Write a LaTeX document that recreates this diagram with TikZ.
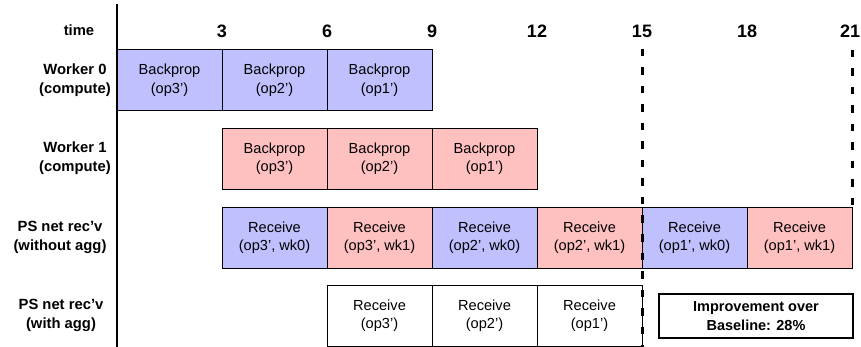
\documentclass[tikz,border=0pt]{standalone}
\usepackage{fontspec}
\setmainfont{Liberation Sans}
\definecolor{wkblue}{RGB}{192,192,255}
\definecolor{wkred}{RGB}{255,192,192}
\tikzset{
  cell/.style={draw=black, line width=0.9pt, minimum width=105pt, minimum height=61pt,
    inner sep=0pt, align=center, font=\fontsize{14.6}{18.5}\selectfont},
  blue cell/.style={cell, fill=wkblue},
  red cell/.style={cell, fill=wkred},
  white cell/.style={cell, fill=white},
  rowlabel/.style={align=center, font=\bfseries\fontsize{14.8}{19}\selectfont, inner sep=0pt},
  ticklabel/.style={font=\bfseries\fontsize{18}{20}\selectfont, inner sep=0pt},
  axisline/.style={line width=2.8pt},
  marker/.style={line width=3pt, dash pattern=on 7.5pt off 11pt},
  notebox/.style={draw=black, line width=1.2pt, minimum width=194pt, minimum height=44pt,
    inner sep=0pt, align=center, font=\bfseries\fontsize{14.5}{19}\selectfont}
}
\begin{document}
\begin{tikzpicture}[x=1pt, y=-1pt]
\useasboundingbox (0,0) rectangle (861,347);

% time axis labels
\node[rowlabel] (time) at (79,30) {time};
\node[ticklabel] (t3)  at (222,31) {3};
\node[ticklabel] (t6)  at (327,31) {6};
\node[ticklabel] (t9)  at (432,31) {9};
\node[ticklabel] (t12) at (537,31) {12};
\node[ticklabel] (t15) at (642,31) {15};
\node[ticklabel] (t18) at (747,31) {18};
\node[ticklabel] (t21) at (850,31) {21};

% row labels
\node[rowlabel] (lw0) at (75,80)    {Worker 0\\(compute)};
\node[rowlabel] (lw1) at (75,158.5) {Worker 1\\(compute)};
\node[rowlabel] (lps) at (60,237.5) {PS net rec’v\\(without agg)};
\node[rowlabel] (lpa) at (61,315.5) {PS net rec’v\\(with agg)};

% vertical axis
\coordinate (axtop) at (117,4);
\coordinate (axbot) at (117,347);
\draw[axisline] (axtop) -- (axbot);

% Worker 0 compute
\node[blue cell] (w0a) at (169.5,80) {Backprop\\(op3’)};
\node[blue cell] (w0b) at (274.5,80) {Backprop\\(op2’)};
\node[blue cell] (w0c) at (379.5,80) {Backprop\\(op1’)};

% Worker 1 compute
\node[red cell] (w1a) at (274.5,158.5) {Backprop\\(op3’)};
\node[red cell] (w1b) at (379.5,158.5) {Backprop\\(op2’)};
\node[red cell] (w1c) at (484.5,158.5) {Backprop\\(op1’)};

% PS receive without aggregation
\node[blue cell] (pa) at (274.5,237.5) {Receive\\(op3’, wk0)};
\node[red cell]  (pb) at (379.5,237.5) {Receive\\(op3’, wk1)};
\node[blue cell] (pc) at (484.5,237.5) {Receive\\(op2’, wk0)};
\node[red cell]  (pd) at (589.5,237.5) {Receive\\(op2’, wk1)};
\node[blue cell] (pe) at (694.5,237.5) {Receive\\(op1’, wk0)};
\node[red cell]  (pf) at (799.5,237.5) {Receive\\(op1’, wk1)};

% PS receive with aggregation
\node[white cell] (qa) at (379.5,315.5) {Receive\\(op3’)};
\node[white cell] (qb) at (484.5,315.5) {Receive\\(op2’)};
\node[white cell] (qc) at (589.5,315.5) {Receive\\(op1’)};

% summary
\node[notebox] (note) at (756,316) {Improvement over\\Baseline: 28\%};

% completion markers
\coordinate (m15top) at (642,49);
\coordinate (m15bot) at (642,347);
\coordinate (m21top) at (852.5,50);
\coordinate (m21bot) at (852.5,205);
\draw[marker] (m15top) -- (m15bot);
\draw[marker] (m21top) -- (m21bot);
\end{tikzpicture}
\end{document}
